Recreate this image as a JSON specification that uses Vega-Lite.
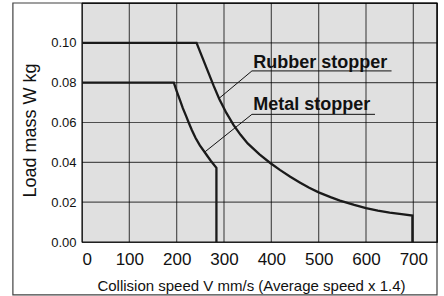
{
  "$schema": "https://vega.github.io/schema/vega-lite/v6.json",
  "width": 355,
  "height": 239,
  "autosize": {"type": "none"},
  "padding": {"left": 82, "top": 3, "right": 7, "bottom": 54},
  "background": "white",
  "config": {
    "view": {"fill": "#e0e0e0", "stroke": "#000000", "strokeOpacity": 0.8, "strokeWidth": 1.2},
    "axis": {"grid": false, "domain": false, "ticks": false}
  },
  "datasets": {
    "curvedata": [
      {"series": "Rubber stopper", "pt": 1, "V": 0, "W": 0.100},
      {"series": "Rubber stopper", "pt": 2, "V": 242, "W": 0.100},
      {"series": "Rubber stopper", "pt": 3, "V": 254, "W": 0.0928},
      {"series": "Rubber stopper", "pt": 4, "V": 266, "W": 0.0857},
      {"series": "Rubber stopper", "pt": 5, "V": 278, "W": 0.0785},
      {"series": "Rubber stopper", "pt": 6, "V": 290, "W": 0.0718},
      {"series": "Rubber stopper", "pt": 7, "V": 305, "W": 0.0648},
      {"series": "Rubber stopper", "pt": 8, "V": 320, "W": 0.0588},
      {"series": "Rubber stopper", "pt": 9, "V": 335, "W": 0.0538},
      {"series": "Rubber stopper", "pt": 10, "V": 350, "W": 0.0495},
      {"series": "Rubber stopper", "pt": 11, "V": 375, "W": 0.0440},
      {"series": "Rubber stopper", "pt": 12, "V": 397, "W": 0.0398},
      {"series": "Rubber stopper", "pt": 13, "V": 418, "W": 0.0362},
      {"series": "Rubber stopper", "pt": 14, "V": 440, "W": 0.0328},
      {"series": "Rubber stopper", "pt": 15, "V": 461, "W": 0.0298},
      {"series": "Rubber stopper", "pt": 16, "V": 480, "W": 0.0272},
      {"series": "Rubber stopper", "pt": 17, "V": 500, "W": 0.0249},
      {"series": "Rubber stopper", "pt": 18, "V": 525, "W": 0.0225},
      {"series": "Rubber stopper", "pt": 19, "V": 545, "W": 0.0208},
      {"series": "Rubber stopper", "pt": 20, "V": 575, "W": 0.0186},
      {"series": "Rubber stopper", "pt": 21, "V": 600, "W": 0.0170},
      {"series": "Rubber stopper", "pt": 22, "V": 625, "W": 0.0158},
      {"series": "Rubber stopper", "pt": 23, "V": 650, "W": 0.0148},
      {"series": "Rubber stopper", "pt": 24, "V": 675, "W": 0.0140},
      {"series": "Rubber stopper", "pt": 25, "V": 698, "W": 0.0133},
      {"series": "Rubber stopper", "pt": 26, "V": 698, "W": 0.0},
      {"series": "Metal stopper", "pt": 1, "V": 0, "W": 0.080},
      {"series": "Metal stopper", "pt": 2, "V": 194, "W": 0.080},
      {"series": "Metal stopper", "pt": 3, "V": 200, "W": 0.0758},
      {"series": "Metal stopper", "pt": 4, "V": 207, "W": 0.0712},
      {"series": "Metal stopper", "pt": 5, "V": 213, "W": 0.0672},
      {"series": "Metal stopper", "pt": 6, "V": 220, "W": 0.0632},
      {"series": "Metal stopper", "pt": 7, "V": 226, "W": 0.0596},
      {"series": "Metal stopper", "pt": 8, "V": 232, "W": 0.0562},
      {"series": "Metal stopper", "pt": 9, "V": 240, "W": 0.0522},
      {"series": "Metal stopper", "pt": 10, "V": 249, "W": 0.0485},
      {"series": "Metal stopper", "pt": 11, "V": 260, "W": 0.0448},
      {"series": "Metal stopper", "pt": 12, "V": 272, "W": 0.0408},
      {"series": "Metal stopper", "pt": 13, "V": 284, "W": 0.0372},
      {"series": "Metal stopper", "pt": 14, "V": 284, "W": 0.0}
    ],
    "leaderdata": [
      {"series": "Rubber stopper", "pt": 1, "V": 290, "W": 0.0722},
      {"series": "Rubber stopper", "pt": 2, "V": 359, "W": 0.0859},
      {"series": "Rubber stopper", "pt": 3, "V": 654, "W": 0.0859},
      {"series": "Metal stopper", "pt": 1, "V": 260, "W": 0.0453},
      {"series": "Metal stopper", "pt": 2, "V": 359, "W": 0.0641},
      {"series": "Metal stopper", "pt": 3, "V": 619, "W": 0.0641}
    ],
    "labeldata": [
      {"label": "Rubber stopper", "V": 362, "W": 0.0875},
      {"label": "Metal stopper", "V": 362, "W": 0.0663}
    ],
    "vgrid": [{"V": 0}, {"V": 100}, {"V": 200}, {"V": 300}, {"V": 400}, {"V": 500}, {"V": 600}, {"V": 700}, {"V": 750}],
    "hgrid": [{"W": 0}, {"W": 0.02}, {"W": 0.04}, {"W": 0.06}, {"W": 0.08}, {"W": 0.1}, {"W": 0.12}]
  },
  "layer": [
    {
      "data": {"name": "vgrid"},
      "mark": {"type": "rule", "color": "#000000", "strokeOpacity": 0.65, "strokeWidth": 1.2},
      "encoding": {
        "x": {
          "field": "V", "type": "quantitative",
          "scale": {"domain": [0, 750], "nice": false, "zero": false},
          "axis": {
            "values": [0, 100, 200, 300, 400, 500, 600, 700],
            "labelFont": "Liberation Sans", "labelFontSize": 17, "labelPadding": 9, "labelColor": "#111111",
            "title": "Collision speed V mm/s (Average speed x 1.4)",
            "titleFont": "Liberation Sans", "titleFontSize": 15, "titleFontWeight": "normal", "titleColor": "#111111",
            "titleX": 169, "titleY": 48, "titleAlign": "center", "titleBaseline": "alphabetic"
          }
        }
      }
    },
    {
      "data": {"name": "hgrid"},
      "mark": {"type": "rule", "color": "#000000", "strokeOpacity": 0.65, "strokeWidth": 1.2},
      "encoding": {
        "y": {
          "field": "W", "type": "quantitative",
          "scale": {"domain": [0, 0.12], "nice": false, "zero": false},
          "axis": {
            "values": [0, 0.02, 0.04, 0.06, 0.08, 0.1],
            "format": ".2f",
            "labelFont": "Liberation Sans", "labelFontSize": 13, "labelPadding": 6, "labelColor": "#111111",
            "title": "Load mass W kg",
            "titleFont": "Liberation Sans", "titleFontSize": 18, "titleFontWeight": "normal", "titleColor": "#111111",
            "titleX": -47, "titleY": 127, "titleAngle": -90, "titleAlign": "center", "titleBaseline": "alphabetic"
          }
        }
      }
    },
    {
      "data": {"name": "curvedata"},
      "mark": {"type": "line", "color": "#1a1a1a", "strokeWidth": 2.3},
      "encoding": {
        "x": {"field": "V", "type": "quantitative"},
        "y": {"field": "W", "type": "quantitative"},
        "detail": {"field": "series"},
        "order": {"field": "pt", "type": "quantitative"}
      }
    },
    {
      "data": {"name": "leaderdata"},
      "mark": {"type": "line", "color": "#111111", "strokeWidth": 1},
      "encoding": {
        "x": {"field": "V", "type": "quantitative"},
        "y": {"field": "W", "type": "quantitative"},
        "detail": {"field": "series"},
        "order": {"field": "pt", "type": "quantitative"}
      }
    },
    {
      "data": {"name": "labeldata"},
      "mark": {"type": "text", "align": "left", "baseline": "alphabetic", "font": "Liberation Sans", "fontWeight": "bold", "fontSize": 18, "color": "#111111"},
      "encoding": {
        "x": {"field": "V", "type": "quantitative"},
        "y": {"field": "W", "type": "quantitative"},
        "text": {"field": "label"}
      }
    },
    {
      "data": {"values": [{"frame": "outer"}]},
      "mark": {"type": "rect", "filled": false, "stroke": "#000000", "strokeOpacity": 0.75, "strokeWidth": 1.2, "clip": false},
      "encoding": {
        "x": {"datum": -146, "type": "quantitative"},
        "x2": {"datum": 750},
        "y": {"datum": -0.0265, "type": "quantitative"},
        "y2": {"datum": 0.12}
      }
    }
  ]
}
